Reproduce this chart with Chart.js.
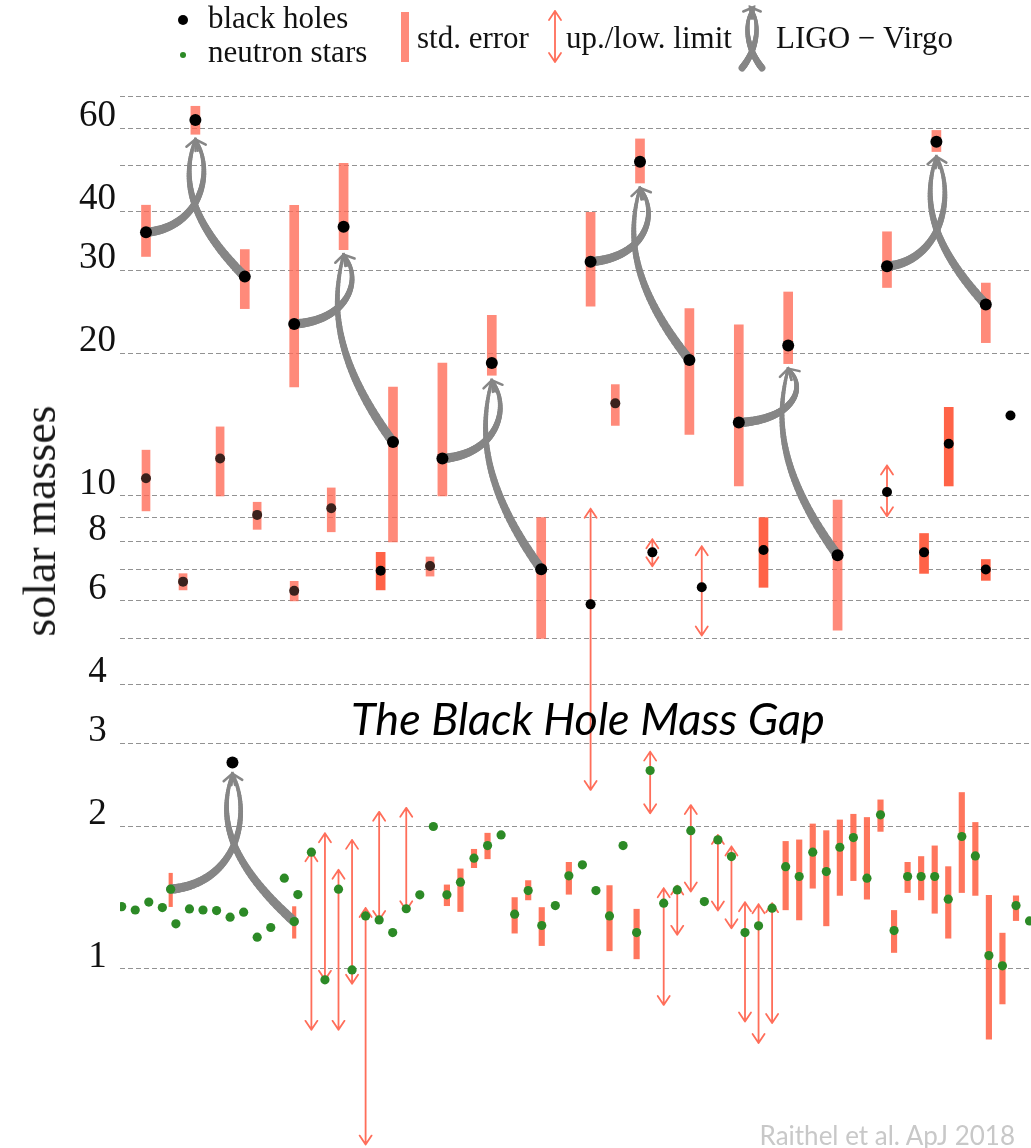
<!DOCTYPE html>
<html lang="en">
<head>
<meta charset="UTF-8">
<title>Black hole and neutron star masses</title>
<script src="https://cdn.jsdelivr.net/npm/chart.js@4.4.1/dist/chart.umd.min.js"></script>
<style>
  html, body { margin: 0; padding: 0; background: #fff; }
  #wrap { position: relative; width: 1031px; height: 1148px; overflow: hidden; }
  #massChart { display: block; }
  #yTitle {
    position: absolute; left: 40px; top: 521px;
    transform: translate(-50%, -50%) rotate(-90deg);
    font: 46px "Liberation Serif", serif; color: #1a1a1a; white-space: nowrap; line-height: 1;
  }
  #gap {
    position: absolute; left: 588px; top: 718px;
    transform: translate(-50%, -50%);
    font: italic 45px Lato, sans-serif; color: #000; white-space: nowrap; line-height: 1;
  }
  #credit {
    position: absolute; right: 16px; top: 1135px;
    transform: translateY(-50%);
    font: 26px Lato, sans-serif; color: #c8c8c8; white-space: nowrap; line-height: 1;
  }
</style>
</head>
<body>
<div id="wrap">
  <canvas id="massChart" width="1031" height="1148"></canvas>
  <div id="yTitle">solar masses</div>
  <div id="gap">The Black Hole Mass Gap</div>
  <div id="credit">Raithel et al. ApJ 2018</div>
</div>
<script>
// y axis
const yGrid = [1, 2, 3, 4, 5, 6, 7, 8, 9, 10, 20, 30, 40, 50, 60, 70];
const yLabels = [1, 2, 3, 4, 6, 8, 10, 20, 30, 40, 60];

// neutron stars, one per slot
const nsMass = [1.354, 1.332, 1.384, 1.348, 1.245, 1.339, 1.332, 1.328, 1.286, 1.318,
                1.167, 1.223, 1.555, 1.436, 1.765, 0.948, 1.474, 0.995, 1.294, 1.269,
                1.193, 1.34, 1.434, 2.0, 1.434, 1.525, 1.714, 1.823, 1.92, 1.305,
                1.464, 1.235, 1.361, 1.573, 1.66, 1.464, 1.294, 1.823, 1.193, 2.627,
                1.377, 1.469, 1.96, 1.388, 1.874, 1.728, 1.193, 1.233, 1.344, 1.645,
                1.568, 1.765, 1.606, 1.808, 1.895, 1.555, 2.117, 1.205, 1.568, 1.568,
                1.568, 1.404, 1.905, 1.733, 1.067, 1.015, 1.361, 1.263];
const nsErrSlot = [24, 25, 26, 27, 29, 30, 31, 33, 36, 38, 49, 50, 51, 52,
                   53, 54, 55, 56, 57, 58, 59, 60, 61, 62, 63, 64, 65, 66];
const nsErrLow  = [1.36, 1.322, 1.637, 1.709, 1.19, 1.399, 1.12, 1.438, 1.092, 1.05, 1.333, 1.269, 1.481, 1.233,
                   1.43, 1.537, 1.404, 1.953, 1.083, 1.45, 1.399, 1.311, 1.161, 1.45, 1.43, 0.71, 0.843, 1.265];
const nsErrHigh = [1.505, 1.627, 1.79, 1.936, 1.415, 1.537, 1.348, 1.68, 1.5, 1.337, 1.86, 1.874, 2.025, 1.96,
                   2.065, 2.123, 2.09, 2.277, 1.329, 1.68, 1.728, 1.82, 1.645, 2.36, 2.04, 1.43, 1.19, 1.427];
const nsLimSlot = [14, 15, 16, 17, 18, 19, 21, 39, 40, 41, 42, 44, 45, 46, 47, 48];
const nsLimLow  = [0.743, 0.948, 0.743, 0.93, 0.425, 1.269, 1.33, 2.134, 0.839, 1.18, 1.457, 1.329, 1.219, 0.774, 0.697, 0.768];
const nsLimHigh = [1.765, 1.936, 1.62, 1.874, 1.345, 2.148, 2.19, 2.88, 1.481, 1.5, 2.22, 1.92, 1.815, 1.383, 1.37, 1.377];

// LIGO-Virgo events: primary, final, secondary (three entries per merger)
const ligoEvents = ['GW150914', 'LVT151012', 'GW170608', 'GW170104', 'GW151226', 'GW170814', 'GW170817'];
const ligoSlot = [0, 4, 8, 12, 16, 20, 24, 28, 32, 36, 40, 44, 48, 52, 56, 60, 64, 68, 2, 7, 12];
const ligoMass = [36.1, 62.4, 29.1, 23.1, 37.1, 13.0, 12.0, 19.1, 7.0, 31.3, 50.9, 19.4,
                  14.3, 20.8, 7.49, 30.6, 56.1, 25.4, 1.474, 2.73, 1.259];
const ligoLow  = [32.1, 58.2, 24.9, 17.0, 33.2, 8.0, 10.0, 18.0, 5.0, 25.2, 45.9, 13.5,
                  10.5, 19.05, 5.2, 27.6, 53.5, 21.1, 1.354, null, 1.161];
const ligoHigh = [41.2, 66.7, 33.2, 41.2, 50.5, 17.0, 19.1, 24.1, 9.0, 39.8, 56.9, 24.9,
                  23.0, 27.0, 9.8, 36.2, 59.3, 28.2, 1.593, null, 1.354];
const ligoKind = ['bh', 'bh', 'bh', 'bh', 'bh', 'bh', 'bh', 'bh', 'bh', 'bh', 'bh', 'bh',
                  'bh', 'bh', 'bh', 'bh', 'bh', 'bh', 'ns', 'bh', 'ns'];

// x-ray binary black holes
const xbSlot = [0, 3, 6, 9, 12, 15, 19, 23, 36, 38, 41, 45, 50, 60, 63, 65, 68, 70];
const xbMass = [10.9, 6.59, 12.0, 9.12, 6.3, 9.42, 6.95, 7.11, 5.9, 15.7, 7.6, 6.41, 7.69, 10.2, 7.6, 12.9, 6.99, 14.8];
const xbLow  = [9.3, 6.33, 10.0, 8.5, 6.0, 8.4, 6.33, 6.77, 2.39, 14.1, 7.1, 5.07, 6.41, 9.06, 6.86, 10.5, 6.63, null];
const xbHigh = [12.5, 6.85, 14.0, 9.7, 6.6, 10.4, 7.6, 7.43, 9.4, 17.2, 8.1, 7.83, 9.0, 11.6, 8.33, 15.4, 7.34, null];
const xbKind = ['err', 'err', 'err', 'err', 'err', 'err', 'err2', 'err', 'lim', 'err', 'lim', 'lim',
                'err2', 'lim', 'err2', 'err2', 'err2', 'none'];

const LIGHT_BAR = 'rgba(255,105,85,0.78)';
const DARK_BAR = '#ff6347';
const NS_BAR = 'rgba(255,99,71,0.88)';
const ARROW = '#ff6e5a';
const GRAY = '#868686';
const GREEN = '#2c8a26';

function bez(p, t) {
  const u = 1 - t;
  return {
    x: u*u*u*p[0].x + 3*u*u*t*p[1].x + 3*u*t*t*p[2].x + t*t*t*p[3].x,
    y: u*u*u*p[0].y + 3*u*u*t*p[1].y + 3*u*t*t*p[2].y + t*t*t*p[3].y
  };
}

// tapered grey curve ending in an open arrow head
function curveArrow(ctx, p, w0, w1) {
  ctx.save();
  ctx.strokeStyle = GRAY;
  ctx.lineCap = 'round';
  const n = 48;
  let prev = bez(p, 0);
  for (let k = 1; k <= n; k++) {
    const t = k / n, cur = bez(p, t);
    ctx.lineWidth = w0 + (w1 - w0) * t;
    ctx.beginPath();
    ctx.moveTo(prev.x, prev.y);
    ctx.lineTo(cur.x, cur.y);
    ctx.stroke();
    prev = cur;
  }
  const T = p[3];
  let dx = T.x - p[2].x, dy = T.y - p[2].y;
  const len = Math.hypot(dx, dy);
  dx /= len; dy /= len;
  const hl = 10, hw = 6;
  ctx.lineWidth = 2.5;
  ctx.beginPath();
  ctx.moveTo(T.x - dx*hl - dy*hw, T.y - dy*hl + dx*hw);
  ctx.lineTo(T.x, T.y);
  ctx.lineTo(T.x - dx*hl + dy*hw, T.y - dy*hl - dx*hw);
  ctx.stroke();
  ctx.restore();
}

// double arrow for upper / lower limits
function limitArrow(ctx, x, yTop, yBot) {
  ctx.save();
  ctx.strokeStyle = ARROW;
  ctx.lineWidth = 1.8;
  ctx.lineCap = 'round';
  ctx.lineJoin = 'round';
  ctx.beginPath();
  ctx.moveTo(x, yTop); ctx.lineTo(x, yBot);
  ctx.moveTo(x - 6, yTop + 9); ctx.lineTo(x, yTop); ctx.lineTo(x + 6, yTop + 9);
  ctx.moveTo(x - 6, yBot - 9); ctx.lineTo(x, yBot); ctx.lineTo(x + 6, yBot - 9);
  ctx.stroke();
  ctx.restore();
}

function drawLegend(ctx) {
  ctx.save();
  ctx.fillStyle = '#000';
  ctx.beginPath(); ctx.arc(183, 20, 5, 0, 2 * Math.PI); ctx.fill();
  ctx.fillStyle = GREEN;
  ctx.beginPath(); ctx.arc(183, 55, 3, 0, 2 * Math.PI); ctx.fill();
  ctx.fillStyle = LIGHT_BAR;
  ctx.fillRect(401, 12, 8, 50);
  limitArrow(ctx, 555, 11, 62);
  curveArrow(ctx, [{x: 742, y: 68}, {x: 758, y: 48}, {x: 761, y: 22}, {x: 750, y: 7}], 7, 2.5);
  curveArrow(ctx, [{x: 762, y: 68}, {x: 746, y: 48}, {x: 743, y: 22}, {x: 754, y: 7}], 7, 2.5);
  ctx.fillStyle = '#111';
  ctx.font = '31px "Liberation Serif", serif';
  ctx.textBaseline = 'middle';
  ctx.fillText('black holes', 208, 20);
  ctx.fillText('neutron stars', 208, 54);
  ctx.fillText('std. error', 417, 40);
  ctx.fillText('up./low. limit', 566, 40);
  ctx.fillText('LIGO \u2212 Virgo', 776, 40);
  ctx.restore();
}

const overlay = {
  id: 'overlay',
  beforeDatasetDraw(chart, args) {
    if (chart.data.datasets[args.index].label !== 'neutron stars') return;
    const ctx = chart.ctx, ys = chart.scales.y, xn = chart.scales.x, xb = chart.scales.xb;
    nsLimSlot.forEach((s, k) => {
      limitArrow(ctx, xn.getPixelForValue(s), ys.getPixelForValue(nsLimHigh[k]), ys.getPixelForValue(nsLimLow[k]));
    });
    xbSlot.forEach((s, k) => {
      if (xbKind[k] === 'lim') {
        limitArrow(ctx, xb.getPixelForValue(s), ys.getPixelForValue(xbHigh[k]), ys.getPixelForValue(xbLow[k]));
      }
    });
    const pt = k => ({x: xb.getPixelForValue(ligoSlot[k]), y: ys.getPixelForValue(ligoMass[k])});
    for (let m = 0; m < ligoEvents.length; m++) {
      const P = pt(3*m), F = pt(3*m + 1), S = pt(3*m + 2);
      const tipY = ligoLow[3*m + 1] != null ? ys.getPixelForValue(ligoLow[3*m + 1]) + 5 : F.y + 11;
      const T = {x: F.x, y: tipY};
      const dy = P.y - T.y, dyS = S.y - T.y;
      curveArrow(ctx, [P, {x: F.x + 5, y: P.y - 0.05*dy}, {x: F.x + 20, y: T.y + 0.35*dy}, T], 9.5, 3);
      curveArrow(ctx, [S, {x: F.x - 12, y: S.y - 0.45*dyS}, {x: F.x - 12, y: T.y + 0.25*dyS}, T], 9.5, 3);
    }
  },
  afterDraw(chart) {
    drawLegend(chart.ctx);
  }
};

function barSet(label, axis, points, color, thickness) {
  return {
    type: 'bar', label: label, xAxisID: axis, yAxisID: 'y', data: points,
    backgroundColor: color, borderWidth: 0, barThickness: thickness,
    grouped: false, order: 5
  };
}

const ligoBhBars = [], ligoNsBars = [], ligoBhDots = [], ligoNsDots = [];
ligoSlot.forEach((s, k) => {
  const dot = {x: s, y: ligoMass[k]};
  if (ligoKind[k] === 'ns') {
    ligoNsDots.push(dot);
    if (ligoLow[k] != null) ligoNsBars.push({x: s, y: [ligoLow[k], ligoHigh[k]]});
  } else {
    ligoBhDots.push(dot);
    if (ligoLow[k] != null) ligoBhBars.push({x: s, y: [ligoLow[k], ligoHigh[k]]});
  }
});
const xbBars = [], xbBarsDark = [];
xbSlot.forEach((s, k) => {
  if (xbKind[k] === 'err') xbBars.push({x: s, y: [xbLow[k], xbHigh[k]]});
  if (xbKind[k] === 'err2') xbBarsDark.push({x: s, y: [xbLow[k], xbHigh[k]]});
});

new Chart(document.getElementById('massChart'), {
  type: 'scatter',
  data: {
    datasets: [
      barSet('LIGO std. error', 'xb', ligoBhBars, LIGHT_BAR, 9),
      barSet('LIGO NS std. error', 'xb', ligoNsBars, NS_BAR, 3.5),
      barSet('BH std. error', 'xb', xbBars, LIGHT_BAR, 8),
      barSet('BH std. error 2', 'xb', xbBarsDark, DARK_BAR, 9),
      barSet('NS std. error', 'x', nsErrSlot.map((s, k) => ({x: s, y: [nsErrLow[k], nsErrHigh[k]]})), NS_BAR, 5.5),
      {
        label: 'neutron stars', xAxisID: 'x', yAxisID: 'y',
        data: nsMass.map((m, j) => ({x: j, y: m})),
        backgroundColor: GREEN, pointRadius: 4.6, borderWidth: 0, order: 3
      },
      {
        label: 'LIGO neutron stars', xAxisID: 'xb', yAxisID: 'y', data: ligoNsDots,
        backgroundColor: GREEN, pointRadius: 4.6, borderWidth: 0, order: 2
      },
      {
        label: 'LIGO black holes', xAxisID: 'xb', yAxisID: 'y', data: ligoBhDots,
        backgroundColor: '#000', pointRadius: 6, borderWidth: 0, order: 1
      },
      {
        label: 'black holes', xAxisID: 'xb', yAxisID: 'y',
        data: xbSlot.map((s, k) => ({x: s, y: xbMass[k]})),
        backgroundColor: xbKind.map(k => k === 'err' ? '#3a211c' : '#000'),
        pointRadius: 5, borderWidth: 0, order: 1
      }
    ]
  },
  options: {
    responsive: false,
    animation: false,
    events: [],
    layout: { autoPadding: false, padding: { top: 90, left: 0, right: 0, bottom: 0 } },
    plugins: { legend: { display: false }, tooltip: { enabled: false } },
    scales: {
      x: { type: 'linear', display: false, offset: false, grid: { offset: false }, min: -0.1255, max: 67.107 },
      xb: { type: 'linear', display: false, offset: false, grid: { offset: false }, min: -2.105, max: 71.66 },
      y: {
        type: 'logarithmic', position: 'left', min: 0.418, max: 72.2,
        afterBuildTicks: scale => { scale.ticks = yGrid.map(v => ({value: v})); },
        afterFit: scale => {
          scale.width = 120;
          scale.paddingTop = 0; scale.paddingBottom = 0;
          scale.paddingLeft = 0; scale.paddingRight = 0;
        },
        ticks: {
          autoSkip: false, crossAlign: 'center', padding: 4, labelOffset: -12,
          color: '#111', font: { family: '"Liberation Serif", serif', size: 37 },
          callback: v => yLabels.includes(v) ? String(v) : ''
        },
        grid: { color: 'rgba(110,110,110,0.75)', lineWidth: 1, drawTicks: false },
        border: { display: false, dash: [5, 3] }
      }
    }
  },
  plugins: [overlay]
});
</script>
</body>
</html>
